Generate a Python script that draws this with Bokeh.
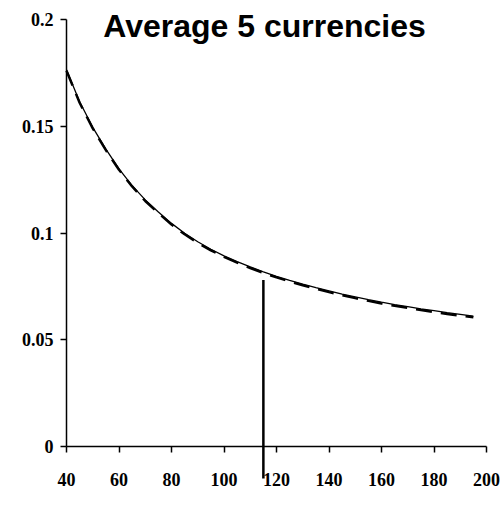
from bokeh.plotting import figure
from bokeh.models import Range1d, Label, FixedTicker, CustomJSTickFormatter
from bokeh.embed import file_html
from bokeh.resources import INLINE

x_vals = [40, 45, 50, 55, 60, 65, 70, 75, 80, 85, 90, 95, 100, 105, 110, 115,
          120, 125, 130, 135, 140, 145, 150, 155, 160, 165, 170, 175, 180, 185, 190, 195]
solid_vals = [0.1765, 0.1615, 0.1495, 0.1393, 0.1300, 0.1222, 0.1155, 0.1098, 0.1045,
              0.0999, 0.0959, 0.0924, 0.0893, 0.0866, 0.0841, 0.0818, 0.0797, 0.0778,
              0.0760, 0.0744, 0.0729, 0.0714, 0.0701, 0.0688, 0.0676, 0.0665, 0.0655,
              0.0645, 0.0636, 0.0627, 0.0619, 0.0611]
dashed_vals = [0.1760, 0.1610, 0.1490, 0.1388, 0.1296, 0.1218, 0.1150, 0.1093, 0.1040,
               0.0994, 0.0954, 0.0919, 0.0888, 0.0861, 0.0836, 0.0813, 0.0792, 0.0773,
               0.0755, 0.0739, 0.0723, 0.0709, 0.0695, 0.0682, 0.0670, 0.0659, 0.0649,
               0.0639, 0.0630, 0.0621, 0.0613, 0.0605]
marker_x = 115
marker_y = [-0.015, 0.078]
x_ticks = [40, 60, 80, 100, 120, 140, 160, 180, 200]
y_ticks = [0, 0.05, 0.1, 0.15, 0.2]
title_text = "Average 5 currencies"

W, H = 504, 504
L, R, T, B = 16, 2, 4, 2
px_x = 2.625      # pixels per x unit
px_y = 2135.0     # pixels per y unit
x0 = 40 - (66 - L) / px_x
x1 = x0 + (W - L - R) / px_x
y1 = (446 - T) / px_y
y0 = y1 - (H - T - B) / px_y

p = figure(width=W, height=H, output_backend="svg", toolbar_location=None,
           x_range=Range1d(x0, x1), y_range=Range1d(y0, y1),
           min_border_left=L, min_border_right=R, min_border_top=T, min_border_bottom=B)
p.outline_line_color = None
p.grid.visible = False
p.background_fill_color = "white"
p.border_fill_color = "white"

p.line(x_vals, dashed_vals, line_color="black", line_width=2.5, line_dash="16 9")
p.line(x_vals, solid_vals, line_color="black", line_width=1.3)
p.line([marker_x, marker_x], marker_y, line_color="black", line_width=2.5)

fmt = CustomJSTickFormatter(code="return String(Math.round(tick*100)/100);")
for ax in (p.xaxis[0], p.yaxis[0]):
    ax.axis_line_color = "black"
    ax.axis_line_width = 1.5
    ax.major_tick_line_color = "black"
    ax.major_tick_line_width = 1.5
    ax.major_tick_in = 0
    ax.major_tick_out = 6
    ax.minor_tick_line_color = None
    ax.major_label_text_font = "Liberation Serif"
    ax.major_label_text_font_style = "bold"
    ax.major_label_text_color = "black"
    ax.major_label_text_font_size = "18px"

p.xaxis.fixed_location = 0
p.xaxis.bounds = (40, 200)
p.xaxis.ticker = FixedTicker(ticks=x_ticks)
p.xaxis.major_label_standoff = 20

p.yaxis.fixed_location = 40
p.yaxis.bounds = (0, 0.2)
p.yaxis.ticker = FixedTicker(ticks=y_ticks)
p.yaxis.formatter = fmt
p.yaxis.major_label_standoff = 7

p.add_layout(Label(x=40 + (264 - 66) / px_x, y=(446 - 25) / px_y, text=title_text,
                   text_align="center", text_baseline="alphabetic",
                   text_font="Liberation Sans", text_font_style="bold",
                   text_font_size="32px", text_color="black"))

open("out.html", "w").write(file_html(p, INLINE))
